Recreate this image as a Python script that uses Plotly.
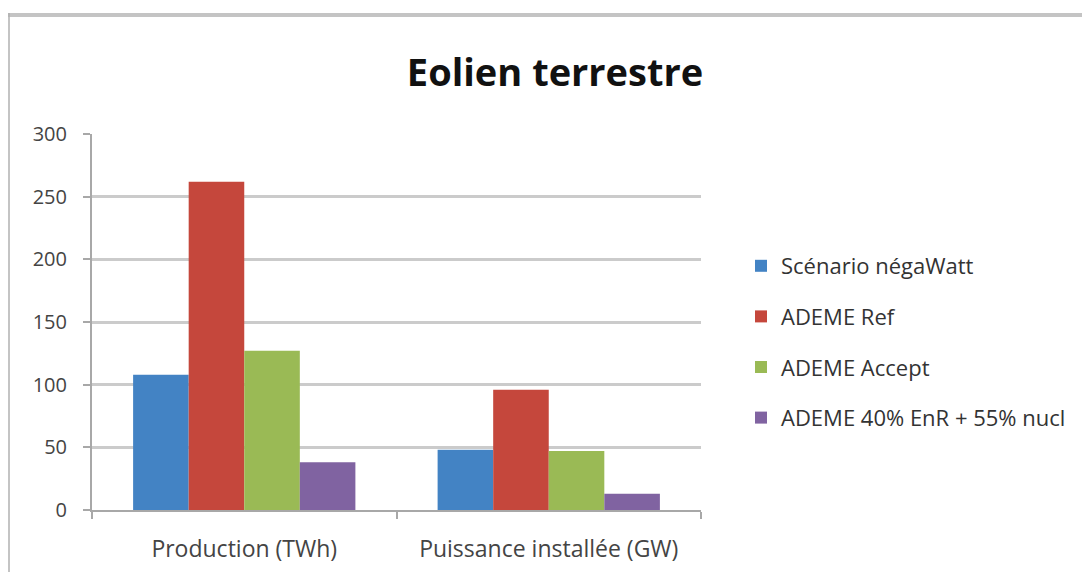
import plotly.graph_objects as go

categories = ["Production (TWh)", "Puissance installée (GW)"]
series_names = ["Scénario négaWatt", "ADEME Ref", "ADEME Accept", "ADEME 40% EnR + 55% nucl"]
negawatt = [108, 48]
ademe_ref = [262, 96]
ademe_accept = [127, 47]
ademe_40 = [38, 13]
series_values = [negawatt, ademe_ref, ademe_accept, ademe_40]
colors = ["#4383c4", "#c5473c", "#9aba55", "#8063a1"]
y_ticks = [0, 50, 100, 150, 200, 250, 300]

fig = go.Figure()
for i, (name, vals, col) in enumerate(zip(series_names, series_values, colors)):
    fig.add_trace(go.Bar(
        x=categories, y=vals, name=name, legendgroup=f"g{i}",
        marker=dict(color=col, line=dict(width=0)),
    ))

# page body offset (8px) compensation
OX, OY = 8, 8
W, H = 1090 - OX, 572 - OY
l, t = 92 - OX, 134 - OY
pw, ph = 609, 376
r, b = W - l - pw, H - t - ph

def px_x(x):
    return (x - OX - l) / pw

def px_y(y):
    return (t + ph - (y - OY)) / ph

FONT = "Open Sans, Lato, sans-serif"

fig.update_layout(
    width=W, height=H,
    margin=dict(l=l, r=r, t=t, b=b, autoexpand=False),
    paper_bgcolor="white", plot_bgcolor="white",
    barmode="group", bargap=0.27, bargroupgap=0,
    title=dict(text="<b>Eolien terrestre</b>", x=(555 - OX) / W, xanchor="center",
               y=1 - (73 - OY) / H, yanchor="middle",
               font=dict(family=FONT, size=38, color="#111111")),
    font=dict(family=FONT, color="#444444"),
    legend=dict(x=px_x(741), y=px_y(245), xanchor="left", yanchor="top",
                font=dict(size=22, color="#333333"), tracegroupgap=19,
                itemwidth=30, bgcolor="rgba(0,0,0,0)"),
    showlegend=True,
    xaxis=dict(showgrid=False, showline=True, linecolor="#a8a8a8", linewidth=2,
               ticks="outside", tickson="boundaries", ticklen=7, tickcolor="#a8a8a8",
               tickwidth=2, tickfont=dict(size=23, color="#444444"),
               ticklabelstandoff=17),
    yaxis=dict(range=[0, 300], tickvals=y_ticks, showgrid=True, gridcolor="#cbcbcb",
               gridwidth=2.5, showline=True, linecolor="#a8a8a8", linewidth=2,
               ticks="outside", ticklen=7, tickcolor="#a8a8a8", tickwidth=2,
               tickfont=dict(size=20, color="#444444"), ticklabelstandoff=12,
               zeroline=False),
    shapes=[
        dict(type="line", xref="paper", yref="paper", x0=px_x(6), x1=px_x(1100),
             y0=px_y(15), y1=px_y(15), line=dict(color="#c4c4c4", width=4)),
        dict(type="line", xref="paper", yref="paper", x0=px_x(9), x1=px_x(9),
             y0=px_y(13), y1=px_y(590), line=dict(color="#b0b0b0", width=1.5)),
    ],
)

fig.write_html("out.html")
